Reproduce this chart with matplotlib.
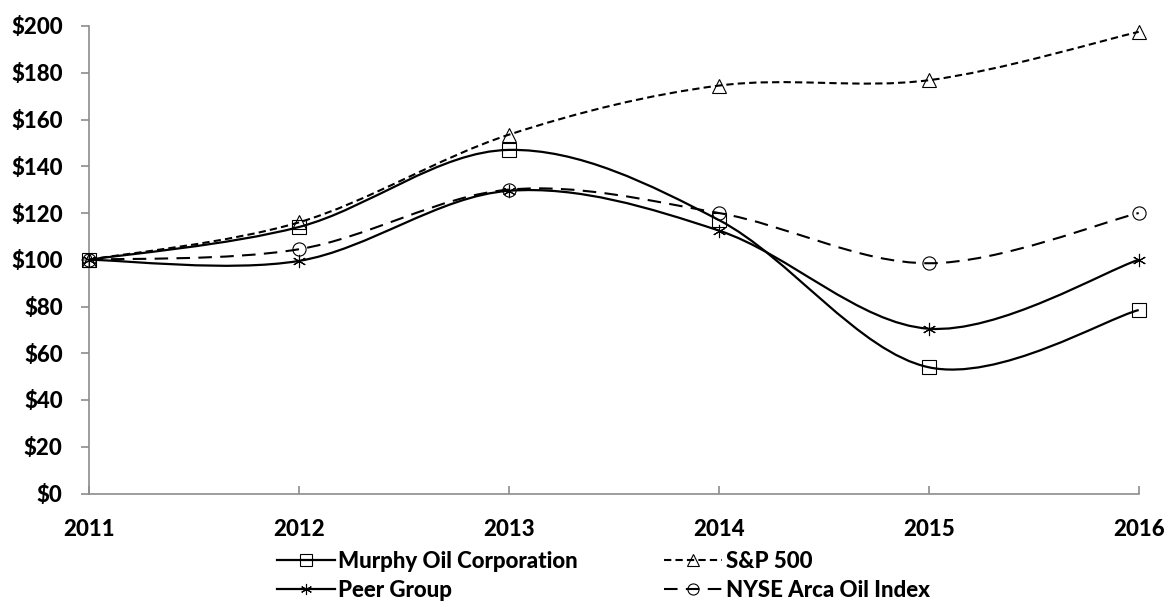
import matplotlib
matplotlib.use("Agg")
import matplotlib.pyplot as plt
from matplotlib.path import Path
from matplotlib.patches import PathPatch
from matplotlib.lines import Line2D
import numpy as np

years = ["2011", "2012", "2013", "2014", "2015", "2016"]
murphy = [100, 114, 147, 117, 54, 78.5]
sp500 = [100, 116, 153.5, 174.5, 176.8, 197.5]
peer = [100, 99.5, 129.5, 112.5, 70.5, 100]
nyse = [100, 104.5, 130, 120, 98.5, 120]
yticks = [0, 20, 40, 60, 80, 100, 120, 140, 160, 180, 200]

WEIGHT = 'black'
plt.rcParams['font.family'] = ['Lato', 'DejaVu Sans']
plt.rcParams['font.weight'] = WEIGHT

fig = plt.figure(figsize=(11.68, 6.07), dpi=100)
ax = fig.add_axes([89/1168, 1-493.5/607, (1138.7-89)/1168, (493.5-26)/607])

x = np.arange(len(years), dtype=float)


def smooth_path(xs, ys):
    pts = np.column_stack([xs, ys])
    n = len(pts)
    verts = [pts[0]]
    codes = [Path.MOVETO]
    for i in range(n - 1):
        p_prev = pts[i - 1] if i > 0 else pts[i]
        p0 = pts[i]
        p1 = pts[i + 1]
        p_next = pts[i + 2] if i + 2 < n else pts[i + 1]
        c1 = p0 + (p1 - p_prev) / 6.0
        c2 = p1 - (p_next - p0) / 6.0
        verts += [c1, c2, p1]
        codes += [Path.CURVE4] * 3
    return Path(verts, codes)


series = [
    ("Murphy Oil Corporation", murphy, 's', '-', 1.6),
    ("S&P 500", sp500, '^', (0, (3.5, 2)), 1.5),
    ("Peer Group", peer, (6, 2, 0), '-', 1.6),
    ("NYSE Arca Oil Index", nyse, 'o', (0, (6.5, 4)), 1.5),
]

handles = {}
for name, vals, mk, ls, lw in series:
    patch = PathPatch(smooth_path(x, vals), facecolor='none', edgecolor='black',
                      linewidth=lw, linestyle=ls, zorder=2, clip_on=False)
    ax.add_patch(patch)
    ax.plot(x, vals, linestyle='none', marker=mk, markersize=9.5,
            markerfacecolor='none', markeredgecolor='black',
            markeredgewidth=0.8, zorder=3, clip_on=False)
    handles[name] = Line2D([], [], color='black', linestyle=ls, linewidth=lw,
                           marker=mk, markersize=8, markerfacecolor='none',
                           markeredgecolor='black', markeredgewidth=0.8,
                           label=name)

ax.set_xlim(0, len(years) - 1)
ax.set_ylim(0, 200)
ax.set_xticks(x)
ax.set_xticklabels(years)
ax.set_yticks(yticks)
ax.set_yticklabels([f"${v}" for v in yticks])

for s in ['top', 'right']:
    ax.spines[s].set_visible(False)
for s in ['left', 'bottom']:
    ax.spines[s].set_color('#8c8c8c')
    ax.spines[s].set_linewidth(1.2)

ax.tick_params(axis='y', direction='out', length=6, width=1.2, color='#8c8c8c',
               pad=13, labelsize=16)
ax.tick_params(axis='x', direction='in', length=6, width=1.2, color='#8c8c8c',
               pad=18, labelsize=16)
for lab in ax.get_xticklabels() + ax.get_yticklabels():
    lab.set_fontweight(WEIGHT)

# column-wise fill: col1 = Murphy, Peer ; col2 = S&P, NYSE
order = [handles["Murphy Oil Corporation"], handles["Peer Group"],
         handles["S&P 500"], handles["NYSE Arca Oil Index"]]
leg = fig.legend(handles=order, loc='upper left',
                 bbox_to_anchor=(277/1168, 1-550.5/607),
                 ncol=2, frameon=False, handlelength=2.6,
                 handletextpad=0.15, columnspacing=3.9, labelspacing=0.39,
                 borderpad=0, borderaxespad=0,
                 prop={'weight': WEIGHT, 'size': 16})

fig.savefig("out.png", dpi=100)
